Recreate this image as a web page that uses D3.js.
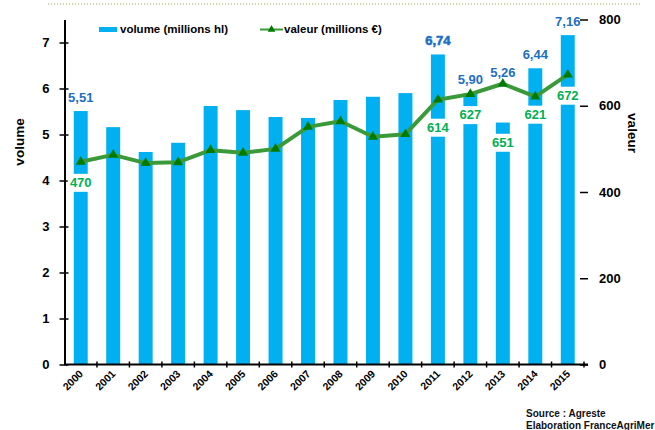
<!DOCTYPE html>
<html>
<head>
<meta charset="utf-8">
<script src="https://cdn.jsdelivr.net/npm/d3@7"></script>
<style>
  html, body { margin: 0; padding: 0; background: #fff; }
  svg { display: block; font-family: "Liberation Sans", Arial, sans-serif; }
</style>
</head>
<body>
<svg id="chart"></svg>
<script>
// Data
const years = [2000, 2001, 2002, 2003, 2004, 2005, 2006, 2007, 2008, 2009, 2010, 2011, 2012, 2013, 2014, 2015];
const volume = [5.51, 5.16, 4.62, 4.82, 5.62, 5.53, 5.38, 5.36, 5.75, 5.82, 5.90, 6.74, 5.90, 5.26, 6.44, 7.16];
const valeur = [470, 486, 467, 469, 497, 491, 500, 551, 564, 528, 534, 614, 627, 651, 621, 672];
const labelledYears = [2000, 2011, 2012, 2013, 2014, 2015];
const volumeTicks = [0, 1, 2, 3, 4, 5, 6, 7];
const valeurTicks = [0, 200, 400, 600, 800];

// Configuration
const width = 655;
const height = 430;
const blue = "#00B0F0";
const blueText = "#1D6FC2";
const greenLine = "#3A9A3A";
const greenMark = "#007A00";
const greenText = "#00B050";

// manual label placement from the original chart (pixels below the marker)
const greenLabelDy = { 2011: 32, 2013: 63, 2014: 22 };

const rows = years.map((y, i) => ({ year: y, vol: volume[i], val: valeur[i] }));

const svg = d3.select("#chart")
    .attr("width", width)
    .attr("height", height);

// Scales
const x = d3.scaleBand()
    .domain(years)
    .range([64.5, 584])
    .paddingInner(0.57)
    .paddingOuter(0.285);

const yL = d3.scaleLinear().domain([0, 7.5]).range([364.5, 19.5]);
const yR = d3.scaleLinear().domain([0, 800]).range([364.5, 19.5]);
const cx = d => x(d) + x.bandwidth() / 2;

// Top dotted rule
svg.append("line")
    .attr("x1", 48).attr("x2", 642)
    .attr("y1", 4).attr("y2", 4)
    .attr("stroke", "#8DB545")
    .attr("stroke-width", 1)
    .attr("stroke-dasharray", "1,2");

// Bars
svg.append("g").selectAll("rect")
    .data(rows)
    .join("rect")
    .attr("x", d => x(d.year))
    .attr("y", d => yL(d.vol))
    .attr("width", x.bandwidth())
    .attr("height", d => yL(0) - yL(d.vol))
    .attr("fill", blue);

// Left axis
const gL = svg.append("g")
    .attr("transform", "translate(64.5,0)")
    .call(d3.axisLeft(yL).tickValues(volumeTicks).tickSizeInner(5).tickSizeOuter(0).tickPadding(10));
gL.select(".domain").attr("stroke-width", 2);
gL.selectAll(".tick line").attr("x1", 4).attr("stroke-width", 1.5);
gL.selectAll(".tick text")
    .attr("font-size", 13).attr("font-weight", "bold").attr("font-family", "Liberation Sans, Arial");

// Right axis (no line, only ticks)
const gR = svg.append("g")
    .attr("transform", "translate(584,0)")
    .call(d3.axisRight(yR).tickValues(valeurTicks).tickSizeInner(4).tickSizeOuter(0).tickPadding(11));
gR.select(".domain").remove();
gR.selectAll(".tick line").attr("x1", -4).attr("stroke-width", 1.5);
gR.selectAll(".tick text")
    .attr("font-size", 13).attr("font-weight", "bold").attr("font-family", "Liberation Sans, Arial");

// Bottom axis: line, ticks at category boundaries, rotated labels
const gap = (x.step() - x.bandwidth()) / 2;
const gX = svg.append("g");
gX.append("line")
    .attr("x1", 64.5).attr("x2", 588)
    .attr("y1", yL(0)).attr("y2", yL(0))
    .attr("stroke", "#000").attr("stroke-width", 2);
gX.selectAll("line.tick")
    .data(years.slice(1).map(y => x(y) - gap).concat([584]))
    .join("line")
    .attr("class", "tick")
    .attr("x1", d => d).attr("x2", d => d)
    .attr("y1", yL(0) - 3).attr("y2", yL(0) + 3)
    .attr("stroke", "#000").attr("stroke-width", 1.5);
gX.selectAll("text")
    .data(years)
    .join("text")
    .attr("transform", d => `translate(${cx(d) + 3},${yL(0) + 10}) rotate(-45)`)
    .attr("text-anchor", "end")
    .attr("font-size", 10.5)
    .attr("font-weight", "bold")
    .text(d => d);

// Axis titles
svg.append("text")
    .attr("transform", "translate(24,142) rotate(-90)")
    .attr("text-anchor", "middle")
    .attr("font-size", 13.5)
    .attr("font-weight", "bold")
    .text("volume");

svg.append("text")
    .attr("transform", "translate(628,133) rotate(90)")
    .attr("text-anchor", "middle")
    .attr("font-size", 13.5)
    .attr("font-weight", "bold")
    .text("valeur");

// White boxes behind value labels
const labelled = rows.filter(d => labelledYears.includes(d.year));
const greenBase = d => yR(d.val) + (greenLabelDy[d.year] !== undefined ? greenLabelDy[d.year] : 25);

svg.append("g").selectAll("rect")
    .data(labelled)
    .join("rect")
    .attr("x", d => cx(d.year) - 13)
    .attr("y", d => greenBase(d) - 13)
    .attr("width", 26)
    .attr("height", 18)
    .attr("fill", "#fff");

// Value line
const line = d3.line()
    .x(d => cx(d.year))
    .y(d => yR(d.val));

svg.append("path")
    .datum(rows)
    .attr("d", line)
    .attr("fill", "none")
    .attr("stroke", greenLine)
    .attr("stroke-width", 4)
    .attr("stroke-linejoin", "round");

svg.append("g").selectAll("path")
    .data(rows)
    .join("path")
    .attr("transform", d => `translate(${cx(d.year)},${yR(d.val)})`)
    .attr("d", d3.symbol(d3.symbolTriangle, 44))
    .attr("fill", greenMark);

// Value labels
svg.append("g").selectAll("text")
    .data(labelled)
    .join("text")
    .attr("x", d => cx(d.year))
    .attr("y", d => Math.min(yL(d.vol) - 9, yR(d.val) - 7))
    .attr("text-anchor", "middle")
    .attr("font-size", 13)
    .attr("font-weight", "bold")
    .attr("fill", blueText)
    .attr("stroke", d => d.year === 2011 ? blueText : "none")
    .attr("stroke-width", 0.6)
    .text(d => d3.format(".2f")(d.vol).replace(".", ","));

svg.append("g").selectAll("text")
    .data(labelled)
    .join("text")
    .attr("x", d => cx(d.year))
    .attr("y", d => greenBase(d))
    .attr("text-anchor", "middle")
    .attr("font-size", 13)
    .attr("font-weight", "bold")
    .attr("fill", greenText)
    .text(d => d.val);

// Legend
const legend = svg.append("g").attr("font-size", 11.5).attr("font-weight", "bold");
legend.append("rect")
    .attr("x", 99).attr("y", 27)
    .attr("width", 18).attr("height", 5)
    .attr("fill", blue);
legend.append("text")
    .attr("x", 120).attr("y", 33)
    .text("volume (millions hl)");
legend.append("line")
    .attr("x1", 260).attr("x2", 283)
    .attr("y1", 29.5).attr("y2", 29.5)
    .attr("stroke", greenLine).attr("stroke-width", 2);
legend.append("path")
    .attr("transform", "translate(271.5,29.5)")
    .attr("d", d3.symbol(d3.symbolTriangle, 26))
    .attr("fill", greenMark);
legend.append("text")
    .attr("x", 284).attr("y", 33)
    .text("valeur (millions €)");

// Source
const src = svg.append("g").attr("font-size", 10).attr("font-weight", "bold").attr("fill", "#111");
src.append("text").attr("x", 526).attr("y", 417).text("Source :  Agreste");
src.append("text").attr("x", 526).attr("y", 429).text("Elaboration FranceAgriMer");
</script>
</body>
</html>
